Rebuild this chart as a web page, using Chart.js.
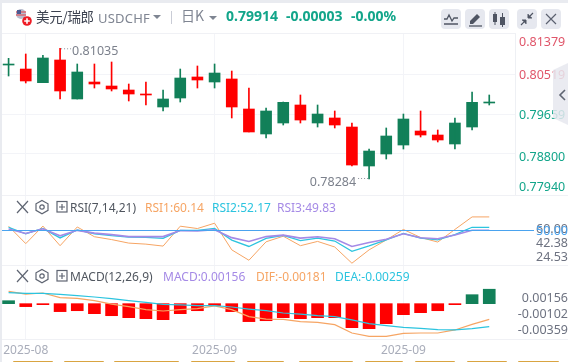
<!DOCTYPE html>
<html><head><meta charset="utf-8">
<script src="https://cdn.jsdelivr.net/npm/chart.js@4"></script>
<style>
html,body{margin:0;padding:0;background:#fff;width:568px;height:362px;overflow:hidden}
body{font-family:"Noto Sans","Noto Sans CJK SC",sans-serif;position:relative}
canvas{position:absolute;left:0}
.t{position:absolute;white-space:nowrap;line-height:18px}
.sep{position:absolute;left:0;width:516px;height:1px;background:#f0f1f5}
.btn{position:absolute;top:9px;width:20px;height:20px;background:#e6e8ef;border-radius:4px}
.btn svg,.ic{position:absolute;left:0;top:0}
.stripe{position:absolute;top:361px;height:1px;background:#d9a441;border-radius:1px 1px 0 0}
</style></head><body>
<canvas id="cMain"></canvas><canvas id="cRsi"></canvas><canvas id="cMacd"></canvas>
<div class="sep" style="top:33px"></div><div class="sep" style="top:195px;width:568px"></div>
<div class="sep" style="top:265px;width:568px"></div><div class="sep" style="top:339px;width:568px"></div>
<div style="position:absolute;left:0;top:0;width:568px;height:3px;background:#e9ebf0"></div>
<div style="position:absolute;left:0;top:0;width:2px;height:362px;background:#e9ebf0"></div>

<svg class="ic" width="40" height="30" style="left:12px;top:6px">
 <circle cx="9" cy="8" r="5" fill="#b8bccd"/><path d="M4 6h10M4 9h10" stroke="#d86a74" stroke-width="1.4"/>
 <path d="M5 4h4v4H5z" fill="#4a5a92"/>
 <circle cx="15" cy="15" r="4.8" fill="#ee1c25"/><path d="M12.2 15h5.6M15 12.2v5.6" stroke="#fff" stroke-width="1.6"/>
</svg>
<div class="t" style="left:36px;top:7px;font-size:13.5px;letter-spacing:-.3px;color:#3c4250;font-family:'Noto Sans CJK SC'">美元/瑞郎</div>
<div class="t" style="left:98px;top:9px;font-size:13px;letter-spacing:.2px;color:#7f8592">USDCHF</div>
<svg class="ic" width="10" height="6" style="left:153px;top:15px"><path d="M0 0h8L4 4z" fill="#7f8592"/></svg>
<div style="position:absolute;left:171px;top:11px;width:1px;height:13px;background:#c9ccd6"></div>
<div class="t" style="left:181px;top:6px;font-size:14px;color:#7f8592;font-family:'Noto Sans CJK SC'">日K</div>
<svg class="ic" width="10" height="6" style="left:209px;top:16px"><path d="M0 0h8L4 4z" fill="#7f8592"/></svg>
<div class="t" style="left:226px;top:7px;font-size:14px;font-weight:700;color:#12a58a">0.79914</div>
<div class="t" style="left:286px;top:7px;font-size:14px;font-weight:700;color:#12a58a">-0.00003</div>
<div class="t" style="left:351px;top:7px;font-size:14px;font-weight:700;color:#12a58a">-0.00%</div>

<div class="btn" style="left:441px"><svg width="20" height="20"><path d="M3 10h3l2-4 3 6 2-3h4" fill="none" stroke="#4f5563" stroke-width="1.3"/><path d="M3 15h14" stroke="#4f5563" stroke-width="1.5"/></svg></div>
<div class="btn" style="left:465px"><svg width="20" height="20"><path d="M5 12l7-7 3 3-7 7H5z" fill="#4f5563"/><path d="M4 17h13" stroke="#4f5563" stroke-width="1.3"/></svg></div>
<div class="btn" style="left:489px"><svg width="20" height="20"><rect x="4" y="5" width="4" height="8" fill="#4f5563"/><rect x="11" y="8" width="5" height="8" fill="#4f5563"/><path d="M6 3v13M13.5 4v14" stroke="#4f5563"/></svg></div>
<div class="btn" style="left:517px"><svg width="20" height="20"><path d="M16 4l-4.5 4.5M4 16l4.5-4.5" stroke="#4f5563" stroke-width="1.2"/><path d="M11 5v4h4M5 11h4v4" fill="#4f5563" stroke="#4f5563"/></svg></div>
<div class="btn" style="left:541px"><svg width="20" height="20"><path d="M5 5l10 10M15 5L5 15" stroke="#5b6170" stroke-width="1.2"/></svg></div>

<svg class="ic" width="15" height="64" style="left:553px;top:63px"><path d="M0 7L15 0V62L0 55z" fill="#e6e7ee" fill-opacity=".85"/><path d="M12 27l-5 5 5 5" fill="none" stroke="#5f6572" stroke-width="1.6"/></svg>

<svg class="ic" width="56" height="16" style="left:14px;top:199px"><g fill="none" stroke="#5f6572" stroke-width="1.2"><path d="M3 2l11 12M14 2L3 14"/><path d="M28 1.5l6 3.3v6.6l-6 3.3-6-3.3V4.800z"/><circle cx="28" cy="8" r="2.200"/><rect x="43" y="2.500" width="10" height="10.500"/><path d="M45 8h6M48 5v6"/></g></svg>
<div class="t" style="left:70px;top:199px;font-size:12px;color:#50565f">RSI(7,14,21)</div>
<div class="t" style="left:145px;top:199px;font-size:12px;color:#f6a564">RSI1:60.14</div>
<div class="t" style="left:212px;top:199px;font-size:12px;color:#2cc4df">RSI2:52.17</div>
<div class="t" style="left:277px;top:199px;font-size:12px;color:#a58ae6">RSI3:49.83</div>

<svg class="ic" width="56" height="16" style="left:14px;top:268px"><g fill="none" stroke="#5f6572" stroke-width="1.2"><path d="M3 2l11 12M14 2L3 14"/><path d="M28 1.5l6 3.3v6.6l-6 3.3-6-3.3V4.800z"/><circle cx="28" cy="8" r="2.200"/><rect x="43" y="2.500" width="10" height="10.500"/><path d="M45 8h6M48 5v6"/></g></svg>
<div class="t" style="left:70px;top:268px;font-size:12px;color:#50565f">MACD(12,26,9)</div>
<div class="t" style="left:163px;top:268px;font-size:12px;color:#a58ae6">MACD:0.00156</div>
<div class="t" style="left:256px;top:268px;font-size:12px;color:#f6a564">DIF:-0.00181</div>
<div class="t" style="left:335px;top:268px;font-size:12px;color:#2cc4df">DEA:-0.00259</div>

<div class="stripe" style="left:13px;width:40px"></div><div class="stripe" style="left:64px;width:40px"></div>
<div class="stripe" style="left:114px;width:65px"></div><div class="stripe" style="left:191px;width:44px"></div>
<div class="stripe" style="left:247px;width:37px"></div><div class="stripe" style="left:299px;width:54px"></div>
<div class="stripe" style="left:365px;width:38px"></div><div class="stripe" style="left:415px;width:40px"></div>
<div class="stripe" style="left:467px;width:40px"></div><div class="stripe" style="left:518px;width:41px"></div>

<script>
const categories = ["","2025-08","","","","","","","","","","","2025-09","","","","","","","","","","","2025-09","","","","","",""];
const open  = [.80712,.80626,.80333,.80820,.79982,.80347,.80261,.80175,.80089,.79810,.80003,.80455,.80347,.80412,.79767,.79230,.79466,.79853,.79466,.79574,.79380,.78542,.78800,.78993,.79294,.79208,.79015,.79380,.79896];
const close = [.80727,.80369,.80863,.80154,.80562,.80304,.80197,.80089,.80068,.79982,.80433,.80390,.80540,.79810,.79273,.79724,.79910,.79530,.79659,.79423,.78563,.78864,.79187,.79552,.79208,.79101,.79466,.79910,.79910];
const high  = [.80856,.80949,.80920,.81071,.80734,.80734,.80777,.80304,.80347,.80175,.80626,.80691,.80734,.80583,.80218,.79788,.79917,.80068,.79853,.79724,.79466,.78907,.79359,.79659,.79724,.79316,.79574,.80132,.80068];
const low   = [.80476,.80326,.80333,.79982,.79982,.80218,.80154,.79939,.79853,.79724,.79917,.80218,.80218,.79574,.79273,.79144,.79423,.79466,.79380,.79359,.78542,.78263,.78692,.78907,.79165,.79058,.78907,.79316,.79853];
const rsi1 = [53,39.600,53.100,38,52.400,44.900,42.700,40,39.200,37.700,53,51.200,55.300,34.800,26.800,41,45.300,38,41.300,37,24.530,34.800,42.400,50.500,44.300,40.800,50.500,60.140,60.140];
const rsi2 = [52.100,47.200,51.300,44,50.100,47.200,45.700,44.600,44.400,43.600,49.800,49.800,51.300,42.300,37.400,43.600,46,41.900,43.800,41.600,33.600,37.800,42.500,47.500,43.800,42.500,46.500,52.170,52.170];
const rsi3 = [50.800,47.400,51,45.600,49.800,47.700,46.500,45,45,45,49.600,49.300,50.300,44.200,41.300,45,46.100,43.800,44.900,43.300,37.400,40.400,42.900,47.200,44.100,43.300,46.300,49.830,49.830];
const rsiTicks = [24.53,42.38,60,50];
const rsiBase = [50];
const histo = [.00032,-.00032,-.00011,-.00086,-.00076,-.00108,-.0013,-.00151,-.00162,-.00173,-.00108,-.00076,-.00022,-.00086,-.00194,-.00184,-.00151,-.00162,-.00151,-.00151,-.00259,-.0027,-.00216,-.00119,-.00097,-.00076,-.00011,.00097,.00156];
const dif = [.00133,.00104,.00115,.00065,.00058,.00032,-.00004,-.00032,-.00065,-.00079,-.00065,-.00054,-.00025,-.00065,-.0014,-.00166,-.00169,-.00194,-.00202,-.00227,-.00317,-.00353,-.00353,-.0032,-.00317,-.00317,-.00284,-.00223,-.0017];
const dea = [.00119,.00112,.00112,.00101,.00086,.00072,.00054,.00032,.00014,-.00007,-.00014,-.00022,-.00022,-.00036,-.00058,-.00076,-.00101,-.00112,-.0013,-.0014,-.00176,-.00216,-.00238,-.00256,-.00266,-.00281,-.00284,-.0027,-.00248];
const mainTicks = [.81379,.80519,.79659,.788,.7794];
const macdTicks = [.00156,-.00102,-.00359];
const extremeLabels = ["0.81035","0.78284"];

const UP="#128059", DOWN="#ff0000", GRID="#f3f4f8";
const FONT={family:"'Noto Sans',sans-serif",size:12.5};
Chart.defaults.animation=false; Chart.defaults.responsive=false;

function size(id,top,h){const c=document.getElementById(id);c.width=568;c.height=h;c.style.top=top+'px';c.style.width='568px';c.style.height=h+'px';return c;}

function xAxis(show){return {type:'category',offset:true,
  grid:{offset:false,drawTicks:false,color:ctx=>categories[ctx.index]?GRID:'transparent'},
  border:{display:false},
  ticks:{display:show,autoSkip:false,maxRotation:0,minRotation:0,padding:4,color:'#a9adba',font:{family:FONT.family,size:12},
         callback:(v,i)=>categories[i]},
  afterFit(s){s.paddingLeft=0;s.paddingRight=0;s.height=show?23:0;}};}

function yAxis(min,max,vals,digits,extra){return Object.assign({position:'right',min,max,
  afterBuildTicks(s){s.ticks=vals.map(v=>({value:v}));},
  afterFit(s){s.width=53;s.paddingTop=0;s.paddingBottom=0;},
  border:{display:false},grid:{display:false,drawTicks:false}},extra,
  {ticks:Object.assign({autoSkip:false,font:FONT,callback:v=>v.toFixed(digits)},extra.ticks)});}

const shiftLabels={id:'shiftLabels',beforeDraw(chart,a,o){
  const s=chart.scales.y;const items=s.getLabelItems();
  if(items._done)return;items._done=true;
  items.forEach((it,i)=>{const t=it.options.translation;it.options.translation=[t[0],t[1]+o.shift[i]];});
}};
const layout={padding:0};
const common={layout,plugins:{legend:{display:false},tooltip:{enabled:false}}};

const upDown=i=>close[i]>=open[i]?UP:DOWN;
const colors=categories.map((_,i)=>i<open.length?upDown(i):'transparent');
const extremes={id:'extremes',afterDatasetsDraw(chart){
  const {ctx,scales:{x,y}}=chart;
  const hi=high.indexOf(Math.max(...high)),lo=low.indexOf(Math.min(...low));
  ctx.save();ctx.font="12.5px 'Noto Sans',sans-serif";ctx.fillStyle='#7c818c';ctx.strokeStyle='#8a8f99';
  ctx.setLineDash([1,2]);ctx.textBaseline='middle';
  let px=x.getPixelForValue(hi),py=y.getPixelForValue(high[hi]);
  ctx.beginPath();ctx.moveTo(px+1,py+.5);ctx.lineTo(px+11,py+.5);ctx.stroke();
  ctx.textAlign='left';ctx.fillText(extremeLabels[0],px+12,py+3);
  px=x.getPixelForValue(lo);py=y.getPixelForValue(low[lo]);
  ctx.beginPath();ctx.moveTo(px-1,py-.5);ctx.lineTo(px-12,py-.5);ctx.stroke();
  ctx.textAlign='right';ctx.fillText(extremeLabels[1],px-13,py+3);
  ctx.restore();}};
new Chart(size('cMain',33,162),{type:'bar',plugins:[shiftLabels,extremes],data:{labels:categories,datasets:[
  {data:open.map((o,i)=>[low[i],high[i]]),barThickness:1,backgroundColor:colors,grouped:false,borderWidth:0},
  {data:open.map((o,i)=>[o,close[i]]),barThickness:11,backgroundColor:colors,grouped:false,borderWidth:0,minBarLength:1}
]},options:Object.assign({},common,{
  plugins:Object.assign({},common.plugins,{shiftLabels:{shift:[8,1,1,3,-7]}}),
  scales:{x:xAxis(false),y:yAxis(.77919,.814,mainTicks,5,{
    border:{display:true,color:'#eef0f4',width:1},
    grid:{drawTicks:false,color:c=>(c.index>0&&c.index<4)?GRID:'transparent',display:true},
    ticks:{padding:4,color:c=>c.tick.value>.8?'#e0566a':'#12a58a'}})}})});

const baseline={id:'baseline',afterDatasetsDraw(chart){
  const {ctx,scales:{y}}=chart;const py=Math.round(y.getPixelForValue(rsiBase[0]))+.5;
  ctx.save();ctx.strokeStyle='#4aa3ef';ctx.lineWidth=1;ctx.beginPath();ctx.moveTo(0,py);ctx.lineTo(534,py);ctx.stroke();ctx.restore();}};
const lineSet=(data,color,w)=>({data,borderColor:color,borderWidth:w,pointRadius:0,tension:0,fill:false});
new Chart(size('cRsi',195,70),{type:'line',plugins:[shiftLabels,baseline],data:{labels:categories,datasets:[
  lineSet(rsi3,'#a58ae6',1.6),lineSet(rsi2,'#2cc4df',1.3),lineSet(rsi1,'#f6a564',1)
]},options:Object.assign({},common,{
  plugins:Object.assign({},common.plugins,{shiftLabels:{shift:[-6,3,12,1]}}),
  scales:{x:xAxis(false),y:yAxis(23.15,77,rsiTicks,2,{
    ticks:{crossAlign:'far',padding:15,color:c=>c.tick.value===50?'#4aa3ef':'#6d7280'}})}})});

const bars=histo.map(v=>v>=0?UP:DOWN);
new Chart(size('cMacd',265,97),{data:{labels:categories,datasets:[
  {type:'line',...lineSet(dea,'#2cc4df',1.2),order:1},
  {type:'line',...lineSet(dif,'#f6a564',1.2),order:2},
  {type:'bar',data:histo,backgroundColor:bars,barThickness:12,borderWidth:0,order:3}
]},plugins:[shiftLabels],options:Object.assign({},common,{
  plugins:Object.assign({},common.plugins,{shiftLabels:{shift:[9,1,-6]}}),
  scales:{x:xAxis(true),y:yAxis(-.003816,.004176,macdTicks,5,{
    ticks:{crossAlign:'far',padding:-1,color:'#6d7280'}})}})});
</script>
</body></html>
